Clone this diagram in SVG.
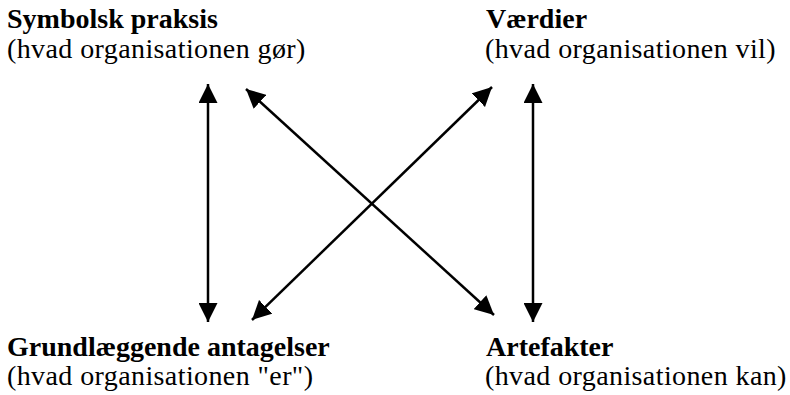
<svg xmlns="http://www.w3.org/2000/svg" width="790" height="395" viewBox="0 0 790 395">
<style>
.t{font-family:"Liberation Serif","Times New Roman",serif;font-size:28px;fill:#000;font-weight:bold}
.s{font-family:"Liberation Serif","Times New Roman",serif;font-size:28px;fill:#000;letter-spacing:0.4px}
.c{stroke:#000;stroke-width:2.5;fill:none;marker-start:url(#ah);marker-end:url(#ah)}
</style>
<defs>
<marker id="ah" markerUnits="userSpaceOnUse" markerWidth="19" markerHeight="19" refX="18" refY="9" orient="auto-start-reverse" viewBox="0 0 18 18">
<path d="M0,0 L18,9 L0,18 z" fill="#000"/>
</marker>
</defs>
<rect width="790" height="395" fill="#fff"/>
<g id="symbolsk-praksis">
<text class="t" x="7" y="28">Symbolsk praksis</text>
<text class="s" x="7" y="58">(hvad organisationen gør)</text>
</g>
<g id="vaerdier">
<text class="t" x="486" y="28">Værdier</text>
<text class="s" x="485" y="58">(hvad organisationen vil)</text>
</g>
<g id="grundlaeggende-antagelser">
<text class="t" x="7" y="356">Grundlæggende antagelser</text>
<text class="s" x="7" y="385">(hvad organisationen "er")</text>
</g>
<g id="artefakter">
<text class="t" x="486" y="356">Artefakter</text>
<text class="s" x="485" y="385">(hvad organisationen kan)</text>
</g>
<g id="connectors">
<path class="c" d="M208,84 L208,322"/>
<path class="c" d="M533,84 L533,322"/>
<path class="c" d="M246,89 L494,315"/>
<path class="c" d="M492,87 L252,320"/>
</g>
</svg>
